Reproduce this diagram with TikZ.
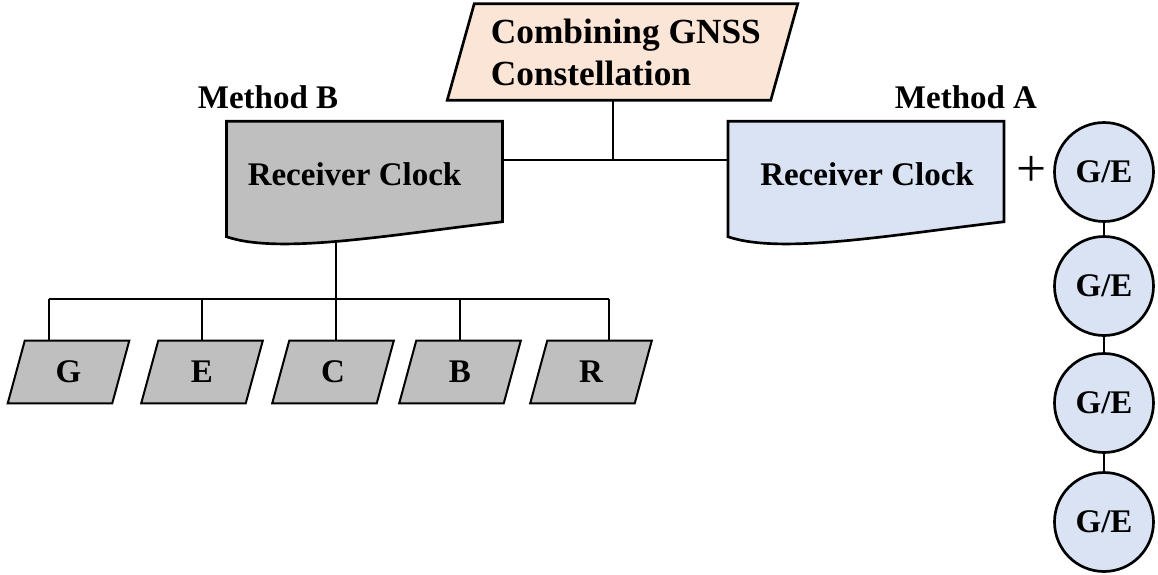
\documentclass[tikz,border=0pt]{standalone}
\usepackage{fontspec}
\setmainfont{Liberation Serif}
\usetikzlibrary{backgrounds,calc}
\definecolor{peach}{HTML}{FBE5D6}
\definecolor{clockgray}{HTML}{BFBFBF}
\definecolor{clockblue}{HTML}{DAE3F3}

% outline of a document-style box with a wavy lower edge
\newcommand\clockdoc[2]{%
  \draw[docline, fill=#2] (#1.north west) -- (#1.north east) -- (#1.south east)
    .. controls ($(#1.south east)+(-112,13)$) and ($(#1.south west)+(53,33)$)
    .. ($(#1.south west)+(0,15)$) -- cycle;}

% outline of a right-leaning parallelogram around a node: name, half slant, style
\newcommand\slantbox[3]{%
  \draw[#3] ($(#1.north west)+(#2,0)$) -- ($(#1.north east)+(#2,0)$)
    -- ($(#1.south east)+(-#2,0)$) -- ($(#1.south west)+(-#2,0)$) -- cycle;}

\begin{document}
\begin{tikzpicture}[x=0.75pt,y=-0.75pt,
  bold/.style={font=\fontsize{24.75}{31.5}\selectfont\bfseries},
  lbl/.style={bold, inner sep=0pt},
  sysbox/.style={rectangle, minimum width=78pt, minimum height=46.5pt, inner sep=0pt, bold},
  sysline/.style={draw=black, line width=1.5pt, fill=clockgray, line join=miter},
  topline/.style={draw=black, line width=2pt, fill=peach, line join=miter},
  docbox/.style={rectangle, minimum width=206.5pt, minimum height=75pt, inner sep=0pt},
  docline/.style={draw=black, line width=2pt, line join=miter},
  sat/.style={circle, draw=black, line width=2pt, fill=clockblue,
    minimum size=74.25pt, inner sep=0pt, bold},
  wire/.style={draw=black, line width=1pt},
  midwire/.style={draw=black, line width=1.2pt},
  heavywire/.style={draw=black, line width=2.2pt},
  chainwire/.style={draw=black, line width=2pt}]

\useasboundingbox (0,0) rectangle (1158,575);

% top-level box
\node[rectangle, minimum width=242.25pt, minimum height=72pt, inner sep=0pt]
  (top) at (622.5,52) {};
\slantbox{top}{13.5}{topline}
\node[align=left, inner sep=0pt, font=\fontsize{26.5}{31.5}\selectfont\bfseries]
  (toptxt) at ([xshift=2.5pt]top.center) {Combining GNSS\\Constellation};

% receiver clock boxes
\node[docbox] (rcB) at (364.5,171.5) {};
\node[docbox] (rcA) at (866,171.5) {};
\clockdoc{rcB}{clockgray}
\clockdoc{rcA}{clockblue}
\node[lbl] (txtB) at (354.5,174.5) {Receiver Clock};
\node[lbl] (txtA) at (867,174) {Receiver Clock};

% method labels
\node[lbl, anchor=base] (mB) at (268,108) {Method B};
\node[lbl, anchor=base] (mA) at (966,108) {Method A};

% single-system boxes
\foreach \n/\x/\t in {g/68.5/G, e/202/E, c/333/C, b/460/B, r/591/R}{
  \node[sysbox] (\n) at (\x,372) {};
  \slantbox{\n}{8.5}{sysline}
  \node[lbl] at (\n.center) {\t};
}

% plus sign and satellite-system chain
\node[font=\fontsize{40}{40}\selectfont, inner sep=0pt] (plus) at (1032,171) {+};
\node[sat] (s1) at (1104,172) {G/E};
\node[sat] (s2) at (1104,286) {G/E};
\node[sat] (s3) at (1104,403) {G/E};
\node[sat] (s4) at (1104,522) {G/E};

% junction and bus points
\coordinate (j) at (613,160);
\coordinate (busB) at (336,299);
\coordinate (dG) at (49,299);
\coordinate (dE) at (202,299);
\coordinate (dC) at (336,299);
\coordinate (dB) at (460,299);
\coordinate (dR) at (609,299);

\begin{scope}[on background layer]
  \draw[midwire] (top.south -| j) -- (j);
  \draw[midwire] (rcB.east |- j) -- (rcA.west |- j);
  \draw[heavywire] (rcB.center -| busB) -- (busB);
  \draw[wire] (dG) -- (dR);
  \foreach \d/\n in {dG/g, dE/e, dC/c, dB/b, dR/r}
    \draw[wire] (\d) -- (\d |- \n.north);
  \draw[chainwire] (s1) -- (s2);
  \draw[chainwire] (s2) -- (s3);
  \draw[chainwire] (s3) -- (s4);
\end{scope}
\end{tikzpicture}
\end{document}
